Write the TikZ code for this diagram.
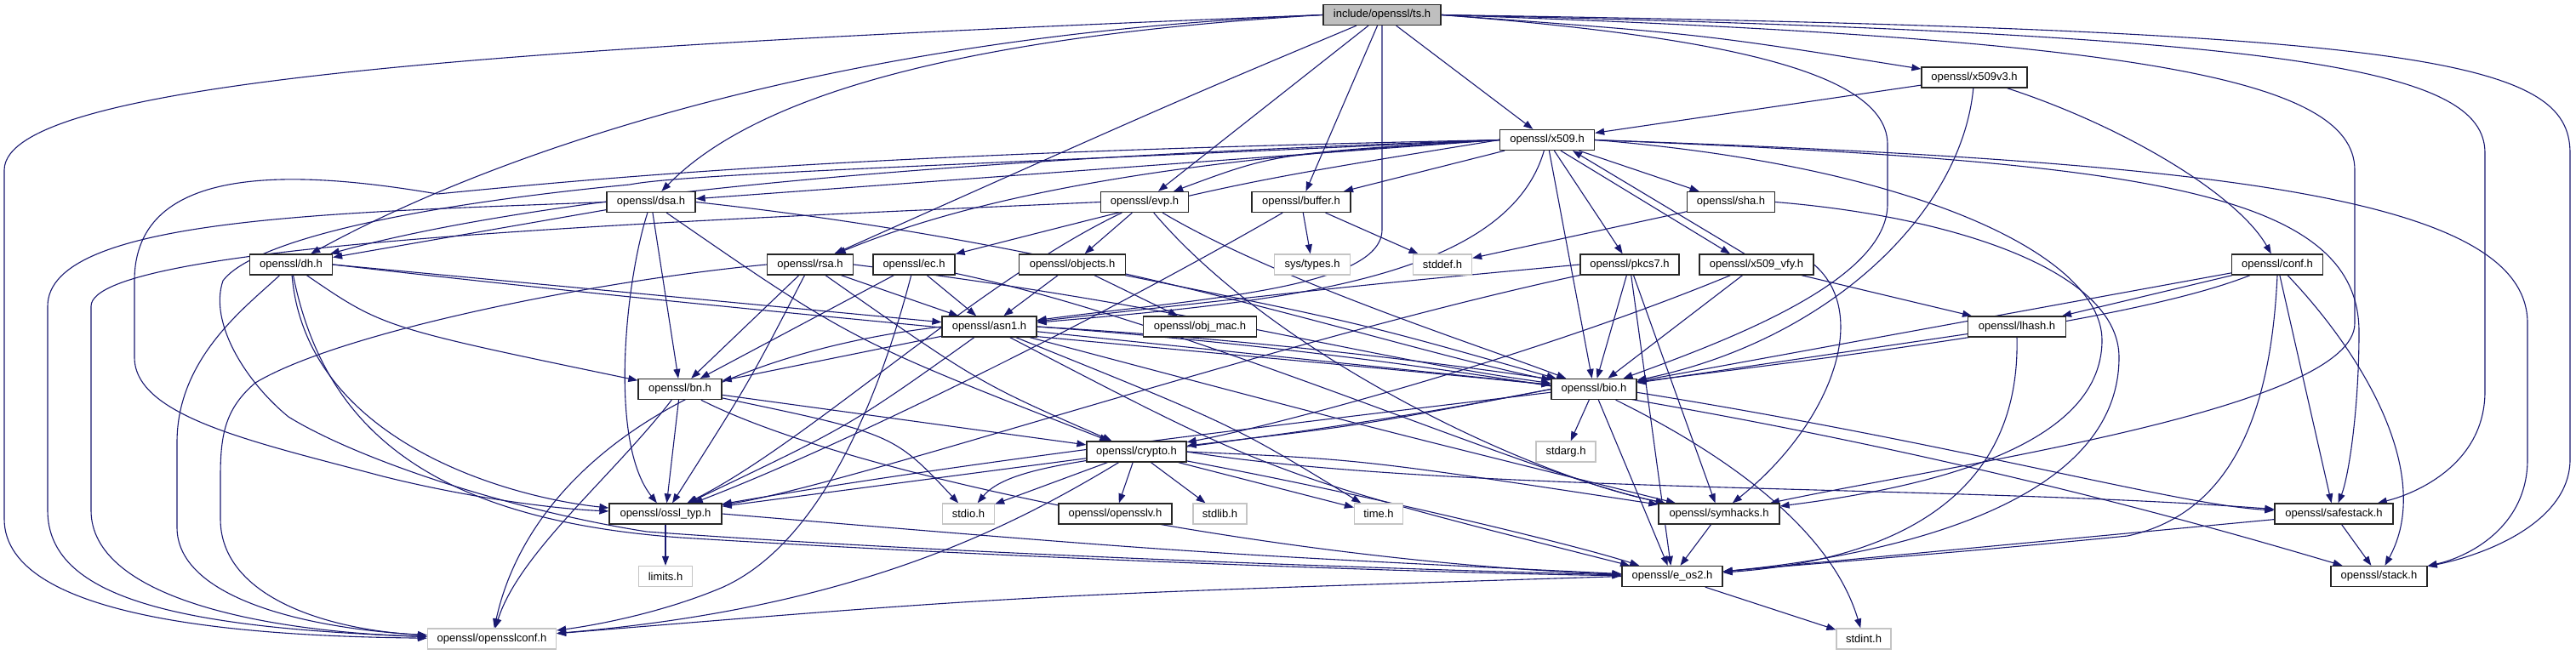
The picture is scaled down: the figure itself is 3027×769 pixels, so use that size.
\documentclass[tikz,border=0pt]{standalone}
\usepackage{fontspec}
\setmainfont{Liberation Sans}
\usetikzlibrary{arrows.meta}
\definecolor{edgeblue}{HTML}{191970}
\definecolor{grayfill}{HTML}{BFBFBF}
\definecolor{grayline}{HTML}{C4C4C4}
\pgfdeclarelayer{bg}
\pgfsetlayers{bg,main}
\tikzset{
 hdr/.style={draw=black!85, line width=1.3pt, fill=white, rectangle, minimum height=24pt, inner sep=0pt, font=\fontsize{13}{15}\selectfont},
 ext/.style={hdr, draw=grayline},
 root/.style={hdr, fill=grayfill},
 e/.style={draw=edgeblue, line width=1.1pt, -{Triangle[length=11pt,width=8pt]}},
}
\begin{document}
\begin{tikzpicture}[x=1pt,y=-1pt]
\useasboundingbox (0,0) rectangle (3027,769);
\node[root, minimum width=138pt] (ts) at (1624,17.5) {include/openssl/ts.h};
\node[hdr, minimum width=124pt] (x509v3) at (2320,91) {openssl/x509v3.h};
\node[hdr, minimum width=111pt] (x509) at (1818,164.5) {openssl/x509.h};
\node[hdr, minimum width=104pt] (dsa) at (765,237.5) {openssl/dsa.h};
\node[hdr, minimum width=103pt] (evp) at (1345,237.5) {openssl/evp.h};
\node[hdr, minimum width=116pt] (buffer) at (1529,237.5) {openssl/buffer.h};
\node[hdr, minimum width=103pt] (sha) at (2034,237.5) {openssl/sha.h};
\node[hdr, minimum width=97pt] (dh) at (342,311) {openssl/dh.h};
\node[hdr, minimum width=101pt] (rsa) at (952,311) {openssl/rsa.h};
\node[hdr, minimum width=96pt] (ec) at (1074,311) {openssl/ec.h};
\node[hdr, minimum width=125pt] (objects) at (1260,311) {openssl/objects.h};
\node[ext, minimum width=89pt] (systypes) at (1542,311) {sys/types.h};
\node[ext, minimum width=69pt] (stddef) at (1695,311) {stddef.h};
\node[hdr, minimum width=116pt] (pkcs7) at (1915,311) {openssl/pkcs7.h};
\node[hdr, minimum width=134pt] (x509vfy) at (2064,311) {openssl/x509\_vfy.h};
\node[hdr, minimum width=107pt] (conf) at (2676,311) {openssl/conf.h};
\node[hdr, minimum width=111pt] (asn1) at (1162.5,384) {openssl/asn1.h};
\node[hdr, minimum width=133pt] (objmac) at (1410,384) {openssl/obj\_mac.h};
\node[hdr, minimum width=115pt] (lhash) at (2370,384) {openssl/lhash.h};
\node[hdr, minimum width=98pt] (bn) at (799,457.5) {openssl/bn.h};
\node[hdr, minimum width=100pt] (bio) at (1873,457.5) {openssl/bio.h};
\node[hdr, minimum width=117pt] (crypto) at (1335.5,531) {openssl/crypto.h};
\node[ext, minimum width=70pt] (stdarg) at (1840,531) {stdarg.h};
\node[hdr, minimum width=132pt] (ossltyp) at (782,604) {openssl/ossl\_typ.h};
\node[ext, minimum width=61pt] (stdio) at (1138,604) {stdio.h};
\node[hdr, minimum width=133pt] (opensslv) at (1310.5,604) {openssl/opensslv.h};
\node[ext, minimum width=63pt] (stdlib) at (1433.5,604) {stdlib.h};
\node[ext, minimum width=57pt] (time) at (1620,604) {time.h};
\node[hdr, minimum width=142pt] (symhacks) at (2020,604) {openssl/symhacks.h};
\node[hdr, minimum width=139pt] (safestack) at (2742.5,604) {openssl/safestack.h};
\node[ext, minimum width=63pt] (limits) at (782,677.5) {limits.h};
\node[hdr, minimum width=118pt] (eos2) at (1965,677.5) {openssl/e\_os2.h};
\node[hdr, minimum width=113pt] (stack) at (2795.5,677.5) {openssl/stack.h};
\node[ext, minimum width=151pt] (opensslconf) at (578,751) {openssl/opensslconf.h};
\node[ext, minimum width=64pt] (stdint) at (2190,751) {stdint.h};

\begin{pgfonlayer}{bg}
% ts
\draw[e] (ts.west) .. controls (600,55) and (5,95) .. (5,200) -- (5,610) .. controls (5,730) and (300,748) .. (opensslconf);
\draw[e] (ts.west) .. controls (1000,40) and (600,170) .. (dh);
\draw[e] (ts.west) .. controls (1100,45) and (880,120) .. (dsa);
\draw[e] (ts) .. controls (1380,120) .. (rsa);
\draw[e] (ts) -- (evp);
\draw[e] (ts) -- (buffer);
\draw[e] (ts.south) -- (1624,270) .. controls (1624,340) and (1400,352) .. (asn1);
\draw[e] (ts) -- (x509);
\draw[e] (ts.east) .. controls (2000,40) .. (x509v3);
\draw[e] (ts.east) .. controls (2050,45) and (2218,90) .. (2218,170) -- (2218,240) .. controls (2218,330) and (2030,400) .. (bio);
\draw[e] (ts.east) .. controls (2500,45) and (2767,90) .. (2767,200) -- (2767,380) .. controls (2767,480) and (2300,545) .. (symhacks);
\draw[e] (ts.east) .. controls (2700,40) and (2920,80) .. (2920,180) -- (2920,460) .. controls (2920,545) and (2840,580) .. (safestack);
\draw[e] (ts.east) .. controls (2850,35) and (3020,70) .. (3020,180) -- (3020,540) .. controls (3020,610) and (2930,650) .. (stack);
% x509v3
\draw[e] (x509v3) -- (x509);
\draw[e] (x509v3) .. controls (2305,250) and (2150,400) .. (bio);
\draw[e] (x509v3) .. controls (2500,150) and (2630,230) .. (conf);
% x509
\draw[e] (x509.east) .. controls (2600,190) and (2970,230) .. (2970,380) -- (2970,540) .. controls (2970,620) and (2900,655) .. (stack);
\draw[e] (x509.east) .. controls (2500,190) and (2772,220) .. (2772,390) .. controls (2772,480) and (2760,560) .. (safestack);
\draw[e] (x509.east) .. controls (2250,195) and (2470,300) .. (2470,400) .. controls (2470,530) and (2250,575) .. (symhacks);
\draw[e] (x509.west) .. controls (1100,195) and (800,205) .. (740,217) .. controls (500,240) and (300,280) .. (262,330) .. controls (245,380) and (290,450) .. (339,490) .. controls (420,540) and (600,600) .. (760,625) .. controls (1100,650) and (1600,668) .. (eos2);
\draw[e] (x509) -- (buffer);
\draw[e] (x509.west) .. controls (1500,180) .. (evp);
\draw[e] (x509.west) -- (dsa);
\draw[e] (x509.west) .. controls (1000,190) and (600,240) .. (dh);
\draw[e] (x509.west) .. controls (1300,190) and (1100,250) .. (rsa);
\draw[e] (x509.west) .. controls (1450,215) .. (ec);
\draw[e] (x509) .. controls (1770,330) and (1500,355) .. (asn1);
\draw[e] (x509.west) .. controls (1000,180) and (700,210) .. (514,228) .. controls (350,200) and (158,190) .. (158,330) -- (158,420) .. controls (158,490) and (300,520) .. (450,560) .. controls (550,585) and (650,598) .. (ossltyp);
\draw[e] (x509) -- (sha);
\draw[e] ([xshift=16pt]x509.south) -- ([xshift=-31pt]x509vfy.north);
\draw[e] ([xshift=-14pt]x509vfy.north) -- ([xshift=30pt]x509.south);
\draw[e] (x509) -- (pkcs7);
\draw[e] (x509) -- (bio);
% dsa
\draw[e] (dsa.west) .. controls (400,250) and (56,255) .. (56,360) -- (56,600) .. controls (56,700) and (200,738) .. (opensslconf);
\draw[e] (dsa) -- (dh);
\draw[e] (dsa.east) .. controls (1300,290) and (1600,400) .. (bio);
\draw[e] (dsa) -- (bn);
\draw[e] (dsa) .. controls (1000,400) .. (crypto);
\draw[e] (dsa) .. controls (735,330) and (715,520) .. (ossltyp);
% dh
\draw[e] (dh) .. controls (290,360) and (208,420) .. (208,520) -- (208,620) .. controls (208,700) and (350,738) .. (opensslconf);
\draw[e] (dh.east) -- (asn1);
\draw[e] (dh.east) .. controls (900,370) and (1500,420) .. (bio);
\draw[e] (dh) .. controls (360,520) and (600,585) .. (ossltyp);
\draw[e] (dh) .. controls (450,385) .. (bn);
\draw[e] (dh) .. controls (380,500) and (500,610) .. (800,632) .. controls (1200,657) and (1700,674) .. (eos2);
% rsa
\draw[e] (rsa.west) .. controls (700,330) and (400,390) .. (300,450) .. controls (265,480) and (259,510) .. (259,560) -- (259,610) .. controls (259,700) and (380,740) .. (opensslconf);
\draw[e] (rsa) -- (asn1);
\draw[e] (rsa.east) .. controls (1400,360) and (1600,420) .. (bio);
\draw[e] (rsa) .. controls (1150,450) .. (crypto);
\draw[e] (rsa) .. controls (880,450) .. (ossltyp);
\draw[e] (rsa) -- (bn);
% evp
\draw[e] (evp.west) .. controls (800,260) and (107,285) .. (107,360) -- (107,600) .. controls (107,700) and (300,742) .. (opensslconf);
\draw[e] (evp) .. controls (1150,330) and (950,520) .. (ossltyp);
\draw[e] (evp) .. controls (1500,420) and (1800,560) .. (symhacks);
\draw[e] (evp) .. controls (1500,330) and (1750,410) .. (bio);
\draw[e] (evp) -- (objects);
% buffer
\draw[e] (buffer) .. controls (1300,370) and (1000,520) .. (ossltyp);
\draw[e] (buffer) -- (stddef);
\draw[e] (buffer) -- (systypes);
% sha
\draw[e] (sha.east) .. controls (2300,255) and (2490,320) .. (2490,420) .. controls (2490,600) and (2200,655) .. (eos2);
\draw[e] (sha) -- (stddef);
% pkcs7
\draw[e] (pkcs7.west) .. controls (1600,335) .. (asn1);
\draw[e] (pkcs7) -- (bio);
\draw[e] (pkcs7) -- (eos2);
\draw[e] (pkcs7) -- (symhacks);
\draw[e] (pkcs7) .. controls (1500,400) and (1000,570) .. (ossltyp);
% x509_vfy
\draw[e] (x509vfy) -- (lhash);
\draw[e] (x509vfy) -- (bio);
\draw[e] (x509vfy) .. controls (1800,420) and (1500,500) .. (crypto);
\draw[e] (x509vfy.east) .. controls (2200,370) and (2150,500) .. (symhacks);
% conf
\draw[e] (conf) -- (bio);
\draw[e] (conf) -- (lhash);
\draw[e] (conf) .. controls (2780,420) and (2860,560) .. (stack);
\draw[e] (conf) -- (safestack);
\draw[e] (conf.south) .. controls (2670,450) and (2640,600) .. (2500,630) .. controls (2300,650) and (2100,665) .. (eos2);
\draw[e] (conf) .. controls (2400,420) and (1500,480) .. (ossltyp);
% lhash
\draw[e] (lhash.south) .. controls (2375,600) and (2200,660) .. (eos2);
\draw[e] (lhash) -- (bio);
% objects
\draw[e] (objects) -- (objmac);
\draw[e] (objects) .. controls (1600,380) .. (bio);
\draw[e] (objects) -- (asn1);
% ec
\draw[e] (ec) .. controls (1030,480) and (960,640) .. (850,690) .. controls (780,720) and (700,735) .. (opensslconf);
\draw[e] (ec) -- (asn1);
\draw[e] (ec) .. controls (1400,380) and (1800,560) .. (symhacks);
\draw[e] (ec) -- (bn);
% asn1
\draw[e] (asn1) .. controls (1450,500) .. (time);
\draw[e] (asn1) .. controls (1500,560) .. (eos2);
\draw[e] (asn1) -- (bio);
\draw[e] (asn1.east) .. controls (2000,440) and (2600,620) .. (stack);
\draw[e] (asn1.east) .. controls (2000,430) and (2500,590) .. (safestack);
\draw[e] (asn1) .. controls (1600,500) .. (symhacks);
\draw[e] (asn1) .. controls (1000,500) .. (ossltyp);
\draw[e] (asn1) -- (bn);
\draw[e] (asn1.west) .. controls (800,420) and (620,560) .. (opensslconf);
% bn
\draw[e] (bn) .. controls (720,560) and (610,650) .. (opensslconf);
\draw[e] (bn) -- (ossltyp);
\draw[e] (bn) -- (crypto);
\draw[e] (bn) .. controls (1050,510) .. (stdio);
\draw[e] (bn) .. controls (1000,560) and (1500,660) .. (eos2);
% crypto
\draw[e] (crypto) -- (stdlib);
\draw[e] (crypto) -- (time);
\draw[e] (crypto) .. controls (1600,580) and (1850,640) .. (eos2);
\draw[e] (crypto) -- (stdio);
\draw[e] (crypto.east) .. controls (1700,580) and (2300,570) .. (safestack);
\draw[e] (crypto) -- (opensslv);
\draw[e] (crypto) -- (ossltyp);
\draw[e] (crypto) .. controls (1180,625) and (1000,715) .. (opensslconf);
\draw[e] (crypto.east) .. controls (1600,540) .. (symhacks);
% bio
\draw[e] (bio) -- (eos2);
\draw[e] (bio.west) .. controls (1400,540) and (1200,530) .. (stdio);
\draw[e] (bio) -- (stdarg);
\draw[e] (bio.west) .. controls (1600,500) .. (crypto);
\draw[e] (bio) .. controls (2080,560) and (2160,650) .. (stdint);
% others
\draw[e] (symhacks) -- (eos2);
\draw[e] (safestack) -- (stack);
\draw[e] (safestack) -- (eos2);
\draw[e] (ossltyp) -- (limits);
\draw[e] (ossltyp.east) .. controls (1400,650) .. (eos2);
\draw[e] (eos2.west) .. controls (1200,700) .. (opensslconf);
\draw[e] (eos2) -- (stdint);
\end{pgfonlayer}
\end{tikzpicture}
\end{document}
